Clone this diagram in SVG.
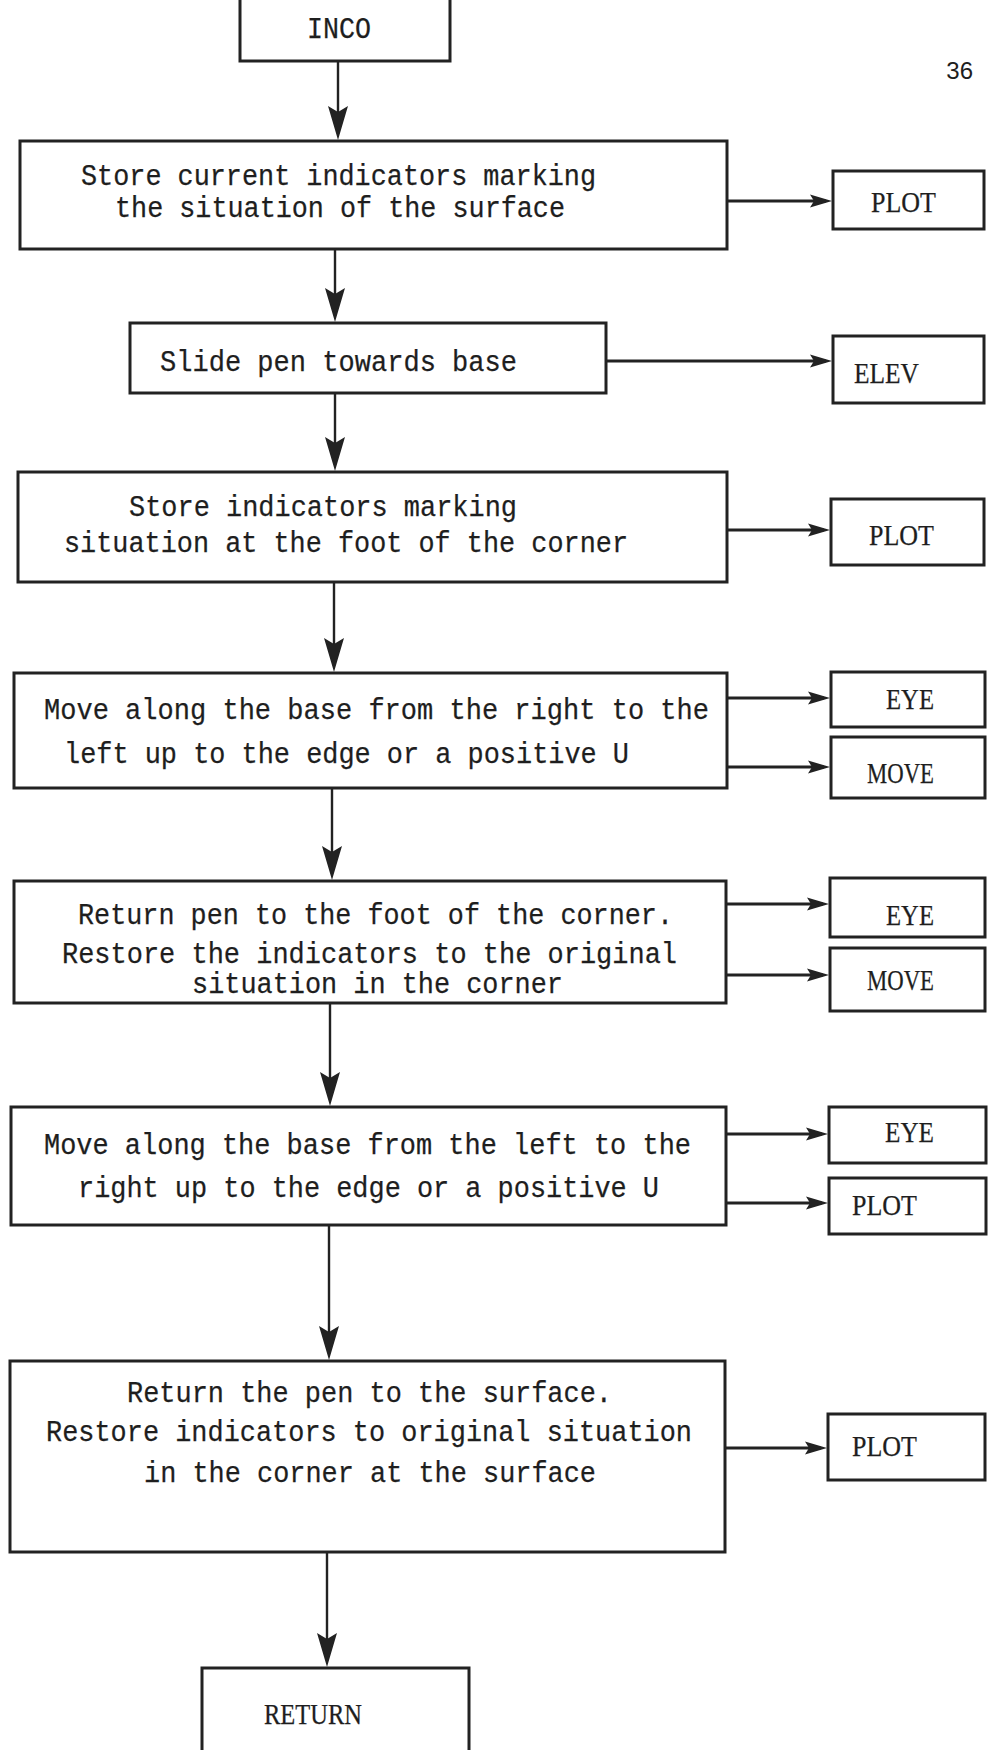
<svg xmlns="http://www.w3.org/2000/svg" width="990" height="1750" viewBox="0 0 990 1750">
  <style>
    .box { fill: #ffffff; stroke: #222222; stroke-width: 3; }
    .flow { fill: none; stroke: #222222; stroke-width: 2.4; }
    .call { fill: none; stroke: #222222; stroke-width: 3; }
    .txt { font-family: "Liberation Mono", "DejaVu Sans Mono", monospace; font-size: 29px; fill: #1e1e1e; stroke: #1e1e1e; stroke-width: 0.25; }
    .lbl { font-family: "Liberation Serif", "DejaVu Serif", serif; font-size: 29px; fill: #1e1e1e; stroke: #1e1e1e; stroke-width: 0.25; }
    .page { font-family: "Liberation Sans Narrow", "Liberation Sans", sans-serif; font-size: 24px; fill: #1e1e1e; }
  </style>
  <defs>
    <!-- long dart head for the main flow -->
    <marker id="headDown" markerUnits="userSpaceOnUse" viewBox="-36 -12 40 24" markerWidth="40" markerHeight="24" refX="-8" refY="0" orient="auto">
      <path d="M0,0 L-34,-10 L-28,0 L-34,10 Z" fill="#222222"/>
    </marker>
    <!-- short head for the subroutine calls -->
    <marker id="headSide" markerUnits="userSpaceOnUse" viewBox="-24 -8 28 16" markerWidth="28" markerHeight="16" refX="-6" refY="0" orient="auto">
      <path d="M0,0 L-22,-6.5 L-18,0 L-22,6.5 Z" fill="#222222"/>
    </marker>
  </defs>

  <rect width="990" height="1750" fill="#ffffff"/>

  <text class="page" x="973" y="79" text-anchor="end">36</text>

  <!-- connectors -->
  <g id="connectors">
    <line class="flow" x1="338" y1="61" x2="338" y2="132" marker-end="url(#headDown)"/>
    <line class="flow" x1="335" y1="249" x2="335" y2="314" marker-end="url(#headDown)"/>
    <line class="flow" x1="335" y1="393" x2="335" y2="463" marker-end="url(#headDown)"/>
    <line class="flow" x1="334" y1="582" x2="334" y2="664" marker-end="url(#headDown)"/>
    <line class="flow" x1="332" y1="788" x2="332" y2="872" marker-end="url(#headDown)"/>
    <line class="flow" x1="330" y1="1003" x2="330" y2="1098" marker-end="url(#headDown)"/>
    <line class="flow" x1="329" y1="1225" x2="329" y2="1352" marker-end="url(#headDown)"/>
    <line class="flow" x1="327" y1="1552" x2="327" y2="1659" marker-end="url(#headDown)"/>

    <line class="call" x1="727" y1="201" x2="826" y2="201" marker-end="url(#headSide)"/>
    <line class="call" x1="606" y1="361" x2="826" y2="361" marker-end="url(#headSide)"/>
    <line class="call" x1="727" y1="530" x2="824" y2="530" marker-end="url(#headSide)"/>
    <line class="call" x1="727" y1="698" x2="824" y2="698" marker-end="url(#headSide)"/>
    <line class="call" x1="727" y1="767" x2="824" y2="767" marker-end="url(#headSide)"/>
    <line class="call" x1="726" y1="904" x2="823" y2="904" marker-end="url(#headSide)"/>
    <line class="call" x1="726" y1="975" x2="823" y2="975" marker-end="url(#headSide)"/>
    <line class="call" x1="726" y1="1134" x2="822" y2="1134" marker-end="url(#headSide)"/>
    <line class="call" x1="726" y1="1203" x2="822" y2="1203" marker-end="url(#headSide)"/>
    <line class="call" x1="725" y1="1448" x2="821" y2="1448" marker-end="url(#headSide)"/>
  </g>

  <!-- main flow -->
  <g id="inco">
    <rect class="box" x="240" y="-10" width="210" height="71"/>
    <text class="txt" x="307" y="38" textLength="64" lengthAdjust="spacingAndGlyphs">INCO</text>
  </g>

  <g id="store-surface">
    <rect class="box" x="20" y="141" width="707" height="108"/>
    <text class="txt" x="81" y="185" textLength="515" lengthAdjust="spacingAndGlyphs">Store current indicators marking</text>
    <text class="txt" x="115" y="217" textLength="450" lengthAdjust="spacingAndGlyphs">the situation of the surface</text>
  </g>

  <g id="slide-pen">
    <rect class="box" x="130" y="323" width="476" height="70"/>
    <text class="txt" x="160" y="371" textLength="357" lengthAdjust="spacingAndGlyphs">Slide pen towards base</text>
  </g>

  <g id="store-foot">
    <rect class="box" x="18" y="472" width="709" height="110"/>
    <text class="txt" x="129" y="516" textLength="388" lengthAdjust="spacingAndGlyphs">Store indicators marking</text>
    <text class="txt" x="64" y="552" textLength="564" lengthAdjust="spacingAndGlyphs">situation at the foot of the corner</text>
  </g>

  <g id="move-right-left">
    <rect class="box" x="14" y="673" width="713" height="115"/>
    <text class="txt" x="44" y="719" textLength="665" lengthAdjust="spacingAndGlyphs">Move along the base from the right to the</text>
    <text class="txt" x="64" y="763" textLength="565" lengthAdjust="spacingAndGlyphs">left up to the edge or a positive U</text>
  </g>

  <g id="return-foot">
    <rect class="box" x="14" y="881" width="712" height="122"/>
    <text class="txt" x="78" y="924" textLength="595" lengthAdjust="spacingAndGlyphs">Return pen to the foot of the corner.</text>
    <text class="txt" x="62" y="963" textLength="615" lengthAdjust="spacingAndGlyphs">Restore the indicators to the original</text>
    <text class="txt" x="192" y="993" textLength="371" lengthAdjust="spacingAndGlyphs">situation in the corner</text>
  </g>

  <g id="move-left-right">
    <rect class="box" x="11" y="1107" width="715" height="118"/>
    <text class="txt" x="44" y="1154" textLength="647" lengthAdjust="spacingAndGlyphs">Move along the base from the left to the</text>
    <text class="txt" x="78" y="1197" textLength="581" lengthAdjust="spacingAndGlyphs">right up to the edge or a positive U</text>
  </g>

  <g id="return-surface">
    <rect class="box" x="10" y="1361" width="715" height="191"/>
    <text class="txt" x="127" y="1402" textLength="485" lengthAdjust="spacingAndGlyphs">Return the pen to the surface.</text>
    <text class="txt" x="46" y="1441" textLength="646" lengthAdjust="spacingAndGlyphs">Restore indicators to original situation</text>
    <text class="txt" x="144" y="1482" textLength="452" lengthAdjust="spacingAndGlyphs">in the corner at the surface</text>
  </g>

  <g id="return">
    <rect class="box" x="202" y="1668" width="267" height="100"/>
    <text class="lbl" x="264" y="1724" textLength="98" lengthAdjust="spacingAndGlyphs">RETURN</text>
  </g>

  <!-- called routines -->
  <g id="plot-1">
    <rect class="box" x="833" y="171" width="151" height="58"/>
    <text class="lbl" x="871" y="212" textLength="65" lengthAdjust="spacingAndGlyphs">PLOT</text>
  </g>
  <g id="elev">
    <rect class="box" x="833" y="336" width="151" height="67"/>
    <text class="lbl" x="854" y="383" textLength="65" lengthAdjust="spacingAndGlyphs">ELEV</text>
  </g>
  <g id="plot-2">
    <rect class="box" x="831" y="499" width="153" height="66"/>
    <text class="lbl" x="869" y="545" textLength="65" lengthAdjust="spacingAndGlyphs">PLOT</text>
  </g>
  <g id="eye-1">
    <rect class="box" x="831" y="672" width="154" height="55"/>
    <text class="lbl" x="886" y="709" textLength="48" lengthAdjust="spacingAndGlyphs">EYE</text>
  </g>
  <g id="move-1">
    <rect class="box" x="831" y="737" width="154" height="61"/>
    <text class="lbl" x="867" y="783" textLength="67" lengthAdjust="spacingAndGlyphs">MOVE</text>
  </g>
  <g id="eye-2">
    <rect class="box" x="830" y="878" width="155" height="59"/>
    <text class="lbl" x="886" y="925" textLength="48" lengthAdjust="spacingAndGlyphs">EYE</text>
  </g>
  <g id="move-2">
    <rect class="box" x="830" y="948" width="155" height="63"/>
    <text class="lbl" x="867" y="990" textLength="67" lengthAdjust="spacingAndGlyphs">MOVE</text>
  </g>
  <g id="eye-3">
    <rect class="box" x="829" y="1107" width="157" height="56"/>
    <text class="lbl" x="885" y="1142" textLength="49" lengthAdjust="spacingAndGlyphs">EYE</text>
  </g>
  <g id="plot-3">
    <rect class="box" x="829" y="1178" width="157" height="56"/>
    <text class="lbl" x="852" y="1215" textLength="65" lengthAdjust="spacingAndGlyphs">PLOT</text>
  </g>
  <g id="plot-4">
    <rect class="box" x="828" y="1414" width="157" height="66"/>
    <text class="lbl" x="852" y="1456" textLength="65" lengthAdjust="spacingAndGlyphs">PLOT</text>
  </g>
</svg>
